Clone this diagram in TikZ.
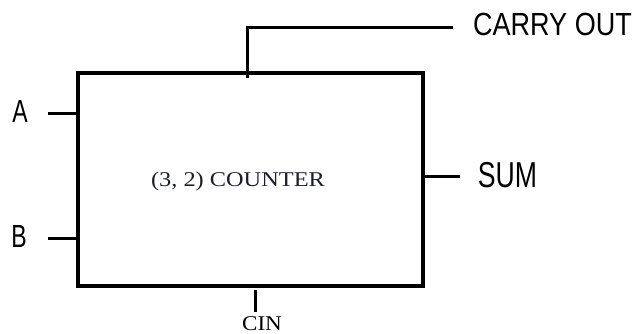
\documentclass[tikz,border=0pt]{standalone}
\usepackage{fontspec}
\usepackage{graphicx}
\usepackage{tikz}
\usetikzlibrary{
    positioning,
    calc
}
\setmainfont{Liberation Serif}
\newfontfamily\pinfont{Liberation Sans}
\definecolor{TextoCentro}{HTML}{1A1E2C}
\newcommand{\largura}[2]{\scalebox{#1}[1]{#2}}

\begin{document}
\begin{tikzpicture}[
        x=1pt, y=-1pt,
        caixa/.style={draw, line width=3.4pt, minimum width=345pt, minimum height=213pt, inner sep=0pt},
        fio/.style={line width=3pt},
        rotulo/.style={inner sep=0pt, font=\pinfont\fontsize{32}{32}\selectfont},
        rotuloserif/.style={inner sep=0pt, anchor=base, font=\fontsize{21}{21}\selectfont}
    ]
    \useasboundingbox (0,0) rectangle (632,334);

    % bloco principal
    \node[caixa] (counter) at (250.5,179.5) {};
    \node[rotuloserif, text=TextoCentro] (counterText) at (238,186.7)
        {\largura{1.16}{(3, 2) COUNTER}};

    % entradas
    \node[rotulo] (labA) at (20,111.5) {\largura{0.72}{A}};
    \node[rotulo] (labB) at (19,236.5) {\largura{0.72}{B}};
    \coordinate (inA) at (48,114);
    \coordinate (inB) at (48,238);
    \draw[fio] (inA) -- (inA -| counter.west);
    \draw[fio] (inB) -- (inB -| counter.west);

    % saidas
    \node[rotulo, font=\pinfont\fontsize{36}{36}\selectfont] (labSum) at (507.5,175) {\largura{0.74}{SUM}};
    \coordinate (outSum) at (460,177);
    \draw[fio] (counter.east |- outSum) -- (outSum);

    \node[rotulo] (labCout) at (552.5,24.4) {\largura{0.845}{CARRY OUT}};
    \coordinate (coutTap) at (247,78);
    \coordinate (coutEnd) at (453,28);
    \draw[fio] (coutTap) |- (coutEnd);

    % carry de entrada
    \node[rotuloserif] (labCin) at (262,330) {\largura{1.1}{CIN}};
    \coordinate (cinTop) at (255,290);
    \coordinate (cinEnd) at (255,312);
    \draw[fio] (cinTop) -- (cinEnd);
\end{tikzpicture}
\end{document}
